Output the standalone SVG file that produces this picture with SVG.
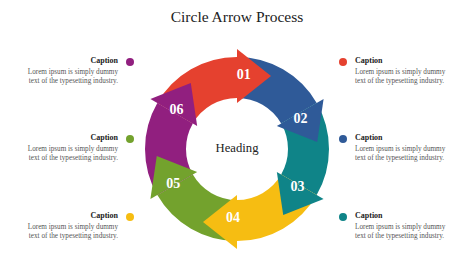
<svg xmlns="http://www.w3.org/2000/svg" width="474" height="266" viewBox="0 0 474 266">
<style>
.t{font-family:"Liberation Serif","Times New Roman",serif}
.title{font-size:15.5px;fill:#222;text-anchor:middle}
.num{font-size:14px;font-weight:bold;fill:#fff;text-anchor:middle}
.head{font-size:12.7px;fill:#222;text-anchor:middle}
.cap{font-size:8px;font-weight:bold;fill:#222}
.lor{font-size:7.2px;fill:#555}
.l{text-anchor:end}
.r{text-anchor:start}
</style>
<rect width="474" height="266" fill="#fff"/>
<text class="t title" x="237" y="22">Circle Arrow Process</text>
<g id="connectors"></g>
<g id="ring">
<path id="body01" fill="#E5412F" d="M157.33,103 A92,92 0 0 1 237,57 L237,98 A51,51 0 0 0 192.83,123.5 Z"/>
<path id="body02" fill="#2F5A98" d="M237,57 A92,92 0 0 1 316.67,103 L281.17,123.5 A51,51 0 0 0 237,98 Z"/>
<path id="body03" fill="#0F8488" d="M316.67,103 A92,92 0 0 1 316.67,195 L281.17,174.5 A51,51 0 0 0 281.17,123.5 Z"/>
<path id="body04" fill="#F6BD12" d="M316.67,195 A92,92 0 0 1 237,241 L237,200 A51,51 0 0 0 281.17,174.5 Z"/>
<path id="body05" fill="#73A22D" d="M237,241 A92,92 0 0 1 157.33,195 L192.83,174.5 A51,51 0 0 0 237,200 Z"/>
<path id="body06" fill="#911F7F" d="M157.33,195 A92,92 0 0 1 157.33,103 L192.83,123.5 A51,51 0 0 0 192.83,174.5 Z"/>
<polygon fill="#E5412F" points="237,103 237,49 271,76"/>
<polygon fill="#2F5A98" points="276.84,126 323.6,99 317.22,141.94"/>
<polygon fill="#0F8488" points="276.84,172 323.6,199 283.22,214.94"/>
<polygon fill="#F6BD12" points="237,195 237,249 203,222"/>
<polygon fill="#73A22D" points="197.16,172 150.4,199 156.78,156.06"/>
<polygon fill="#911F7F" points="197.16,126 150.4,99 190.78,83.06"/>
</g>
<g id="n01"><text class="t num" x="243.7" y="79">01</text></g>
<g id="n02"><text class="t num" x="300.5" y="123.2">02</text></g>
<g id="n03"><text class="t num" x="297.5" y="191.4">03</text></g>
<g id="n04"><text class="t num" x="233" y="221.7">04</text></g>
<g id="n05"><text class="t num" x="173.3" y="188.2">05</text></g>
<g id="n06"><text class="t num" x="176.5" y="114.2">06</text></g>
<g id="heading"><text class="t head" x="237" y="152">Heading</text></g>
<g id="capL1">
<circle cx="130" cy="62" r="4" fill="#911F7F"/>
<text class="t cap l" x="118" y="63">Caption</text>
<text class="t lor l" x="118" y="74">Lorem ipsum is simply dummy</text>
<text class="t lor l" x="118" y="83">text of the typesetting industry.</text>
</g>
<g id="capL2">
<circle cx="130" cy="139" r="4" fill="#73A22D"/>
<text class="t cap l" x="118" y="140">Caption</text>
<text class="t lor l" x="118" y="151">Lorem ipsum is simply dummy</text>
<text class="t lor l" x="118" y="160">text of the typesetting industry.</text>
</g>
<g id="capL3">
<circle cx="130" cy="217" r="4" fill="#F6BD12"/>
<text class="t cap l" x="118" y="218">Caption</text>
<text class="t lor l" x="118" y="229">Lorem ipsum is simply dummy</text>
<text class="t lor l" x="118" y="238">text of the typesetting industry.</text>
</g>
<g id="capR1">
<circle cx="343" cy="62" r="4" fill="#E5412F"/>
<text class="t cap r" x="355" y="63">Caption</text>
<text class="t lor r" x="355" y="74">Lorem ipsum is simply dummy</text>
<text class="t lor r" x="355" y="83">text of the typesetting industry.</text>
</g>
<g id="capR2">
<circle cx="343" cy="139" r="4" fill="#2F5A98"/>
<text class="t cap r" x="355" y="140">Caption</text>
<text class="t lor r" x="355" y="151">Lorem ipsum is simply dummy</text>
<text class="t lor r" x="355" y="160">text of the typesetting industry.</text>
</g>
<g id="capR3">
<circle cx="343" cy="217" r="4" fill="#0F8488"/>
<text class="t cap r" x="355" y="218">Caption</text>
<text class="t lor r" x="355" y="229">Lorem ipsum is simply dummy</text>
<text class="t lor r" x="355" y="238">text of the typesetting industry.</text>
</g>
</svg>
